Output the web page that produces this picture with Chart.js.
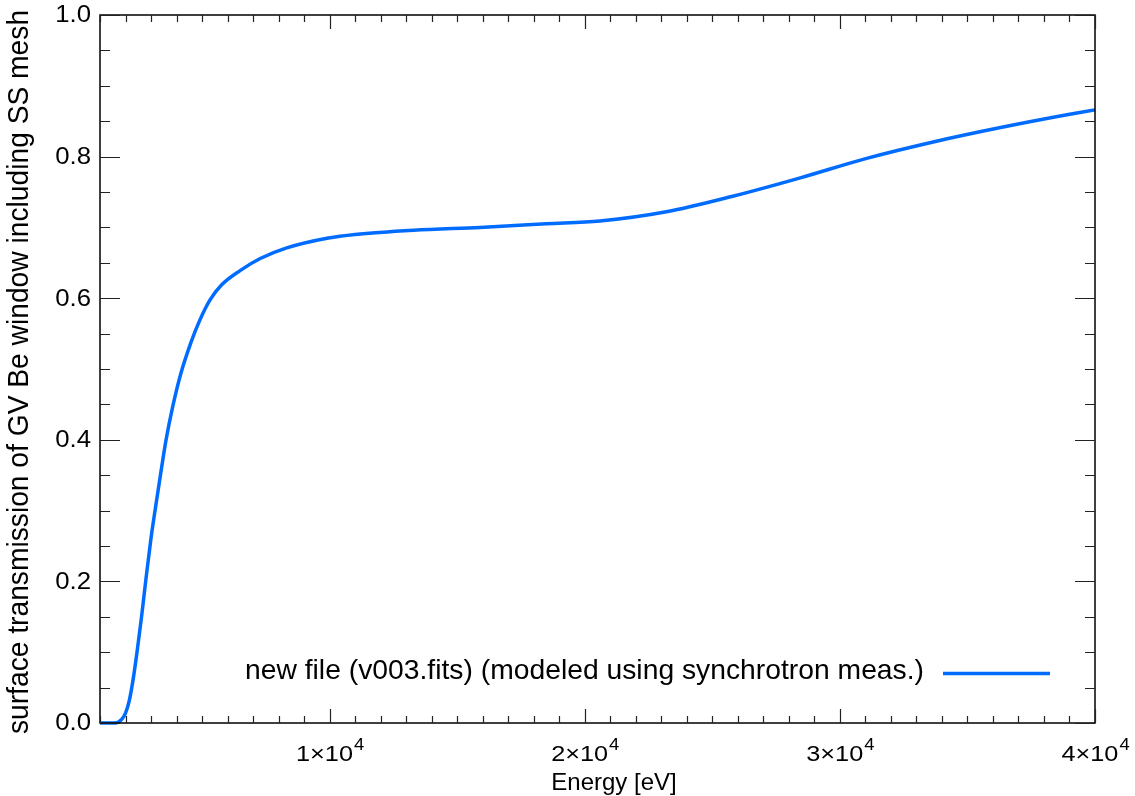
<!DOCTYPE html>
<html>
<head>
<meta charset="utf-8">
<title>GV Be window transmission</title>
<script src="https://cdn.jsdelivr.net/npm/chart.js@4"></script>
<style>
  html, body { margin: 0; padding: 0; background: #fff; }
  #chart { display: block; }
</style>
</head>
<body>
<canvas id="chart" width="1135" height="796"></canvas>
<script>
// values
const energy = [1000, 1500, 1700, 1850, 2000, 2150, 2300, 2450, 2635, 2790, 2990, 3180, 3380, 3590, 3850,
  4180, 4570, 4900, 5300, 5770, 6490, 7280, 8320, 9950, 11000, 13300, 15900, 18500, 20600, 23200,
  25800, 28450, 31050, 33700, 36300, 38900, 40000];
const transmission = [0, 0, 0.001, 0.005, 0.014, 0.032, 0.062, 0.100, 0.152, 0.200, 0.2585, 0.3055, 0.3527, 0.400, 0.4468,
  0.495, 0.538, 0.568, 0.597, 0.619, 0.639, 0.656, 0.671, 0.685, 0.690, 0.696, 0.700, 0.705, 0.709, 0.722,
  0.744, 0.770, 0.7975, 0.821, 0.841, 0.859, 0.866];

const xTickValues = [10000, 20000, 30000, 40000];
const xTickMantissa = ["1", "2", "3", "4"];
const xTickExponent = "4";
const yTickValues = [0, 0.2, 0.4, 0.6, 0.8, 1.0];
const yTickLabels = ["0.0", "0.2", "0.4", "0.6", "0.8", "1.0"];

const seriesLabel = "new file (v003.fits) (modeled using synchrotron meas.)";
const xTitle = "Energy [eV]";
const yTitle = "surface transmission of GV Be window including SS mesh";

const BLUE = "#006cff";
const FONT = "'Liberation Sans', Arial, Helvetica, sans-serif";

// draw text with a horizontal stretch (the original fonts are wider/narrower than Arial)
function stretchText(ctx, text, x, y, size, sx, align) {
  ctx.save();
  ctx.font = size + "px " + FONT;
  const w = ctx.measureText(text).width * sx;
  let x0 = x;
  if (align === "center") x0 = x - w / 2;
  if (align === "right") x0 = x - w;
  ctx.translate(x0, y);
  ctx.scale(sx, 1);
  ctx.textAlign = "left";
  ctx.fillText(text, 0, 0);
  ctx.restore();
  return w;
}

const idlAxes = {
  id: "idlAxes",
  afterDraw(chart) {
    const ctx = chart.ctx;
    const a = chart.chartArea;
    const xs = chart.scales.x;
    const ys = chart.scales.y;

    ctx.save();
    ctx.strokeStyle = "#000";
    ctx.fillStyle = "#000";
    ctx.lineWidth = 1.5;
    ctx.strokeRect(a.left, a.top, a.right - a.left, a.bottom - a.top);

    // x ticks, minor every 1000 eV, on bottom and top
    ctx.lineWidth = 1.2;
    ctx.strokeStyle = "#222";
    ctx.beginPath();
    for (let v = 1000; v <= 40000; v += 1000) {
      const px = Math.round(xs.getPixelForValue(v)) + 0.5;
      const len = (v % 10000 === 0) ? 14 : 7;
      ctx.moveTo(px, a.bottom); ctx.lineTo(px, a.bottom - len);
      ctx.moveTo(px, a.top); ctx.lineTo(px, a.top + len);
    }
    // y ticks, minor every 0.05, on left and right
    for (let i = 0; i <= 20; i++) {
      const v = i * 0.05;
      const py = Math.round(ys.getPixelForValue(v)) + 0.5;
      const len = (i % 4 === 0) ? 20 : 10;
      ctx.moveTo(a.left, py); ctx.lineTo(a.left + len, py);
      ctx.moveTo(a.right, py); ctx.lineTo(a.right - len, py);
    }
    ctx.stroke();

    // x tick labels like 1x10^4
    ctx.textBaseline = "alphabetic";
    xTickValues.forEach((v, i) => {
      const px = xs.getPixelForValue(v);
      const base = xTickMantissa[i] + "\u00d710";
      ctx.font = "22px " + FONT;
      const wb = ctx.measureText(base).width * 1.15;
      ctx.font = "16px " + FONT;
      const we = ctx.measureText(xTickExponent).width * 1.15;
      const x0 = px - (wb + we) / 2;
      stretchText(ctx, base, x0, 761, 22, 1.15, "left");
      stretchText(ctx, xTickExponent, x0 + wb + 1, 750, 16, 1.15, "left");
    });

    // y tick labels
    ctx.textBaseline = "middle";
    yTickValues.forEach((v, i) => {
      const py = ys.getPixelForValue(v);
      stretchText(ctx, yTickLabels[i], 91, py + 1, 23, 1.12, "right");
    });

    // axis titles
    ctx.textBaseline = "alphabetic";
    stretchText(ctx, xTitle, 614, 790, 24, 1.0, "center");

    ctx.save();
    ctx.translate(28, (a.top + a.bottom) / 2 + 3);
    ctx.rotate(-Math.PI / 2);
    stretchText(ctx, yTitle, 0, 0, 30, 0.94, "center");
    ctx.restore();

    // legend: label then line sample
    stretchText(ctx, seriesLabel, 924, 679, 28, 1.01, "right");
    ctx.strokeStyle = BLUE;
    ctx.lineWidth = 3.5;
    ctx.beginPath();
    ctx.moveTo(943, 673.5);
    ctx.lineTo(1050, 673.5);
    ctx.stroke();
    ctx.restore();
  }
};

const points = energy.map((e, i) => ({ x: e, y: transmission[i] }));

new Chart(document.getElementById("chart"), {
  type: "line",
  data: {
    datasets: [{
      label: seriesLabel,
      data: points,
      borderColor: BLUE,
      borderWidth: 3.5,
      pointRadius: 0,
      cubicInterpolationMode: "monotone",
      fill: false,
      clip: false
    }]
  },
  options: {
    responsive: false,
    animation: false,
    layout: { padding: { top: 15, right: 40, left: 0, bottom: 0 } },
    plugins: { legend: { display: false }, tooltip: { enabled: false } },
    scales: {
      x: {
        type: "linear",
        min: 1000,
        max: 40000,
        grid: { display: false, drawTicks: false },
        border: { display: false },
        ticks: { display: false },
        afterFit: (s) => { s.height = 73; }
      },
      y: {
        min: 0,
        max: 1,
        grid: { display: false, drawTicks: false },
        border: { display: false },
        ticks: { display: false },
        afterFit: (s) => { s.width = 100; }
      }
    }
  },
  plugins: [idlAxes]
});
</script>
</body>
</html>
